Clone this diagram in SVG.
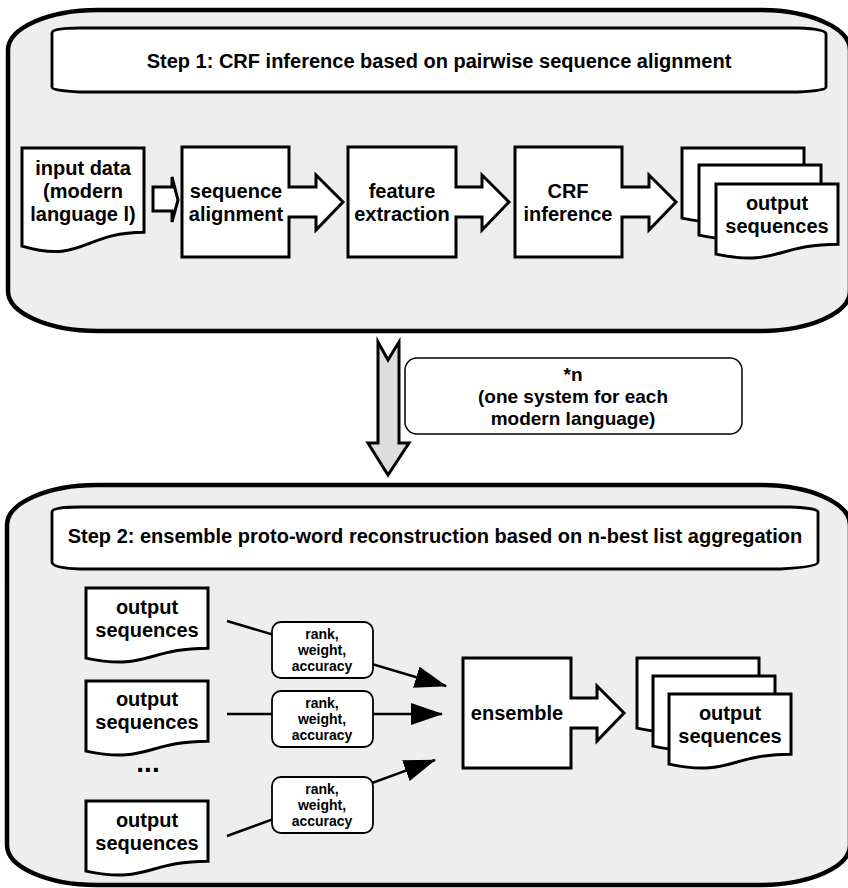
<svg xmlns="http://www.w3.org/2000/svg" width="848" height="888" viewBox="0 0 848 888">
<defs>
<style>
text{font-family:"Liberation Sans",Arial,sans-serif;font-weight:bold;fill:#000;text-anchor:middle}
.t20{font-size:20px}
.t19{font-size:19px}
.t14{font-size:14px}
.cont{fill:#eeeeee;stroke:#000;stroke-width:4.5}
.hdr{fill:#fff;stroke:#000;stroke-width:2.8}
.box{fill:#fff;stroke:#000;stroke-width:3;stroke-linejoin:miter}
.lbl{fill:#fff;stroke:#000;stroke-width:1.8}
.con{fill:none;stroke:#000;stroke-width:2.5}
</style>
<marker id="ah" markerUnits="userSpaceOnUse" markerWidth="32" markerHeight="22" viewBox="0 0 32 22" refX="31" refY="11" orient="auto">
<path d="M0,0 L32,11 L0,22 z" fill="#000"/>
</marker>
</defs>

<g id="step1-container">
<rect class="cont" x="8" y="10" width="842" height="321" rx="90" ry="40"/>
</g>
<g id="step1-header">
<path class="hdr" d="M52,33 Q52,28 80,28 L798,28 Q826,29 826,34 V87 Q826,91 798,92 L80,92 Q52,91 52,87 Z"/>
<text class="t20" x="439" y="68">Step 1: CRF inference based on pairwise sequence alignment</text>
</g>

<g id="input-data">
<path class="box" d="M22,148 H144 V232.2 C83,232.2 83,264.2 22,246.1 Z"/>
<text class="t20" x="83" y="175">input data</text>
<text class="t20" x="83" y="198">(modern</text>
<text class="t20" x="83" y="221">language l)</text>
</g>
<g id="small-arrow">
<path class="box" d="M153,187 H172 V177 L178,200 L172,222 V211 H153 Z"/>
</g>
<g id="sequence-alignment">
<path class="box" d="M182,147 H289 V187 H316 V175 L343,202 L316,230 V217 H289 V257 H182 Z"/>
<text class="t20" x="236" y="198">sequence</text>
<text class="t20" x="236" y="221">alignment</text>
</g>
<g id="feature-extraction">
<path class="box" d="M348,147 H456 V187 H482 V175 L509,202 L482,230 V217 H456 V257 H348 Z"/>
<text class="t20" x="402" y="198">feature</text>
<text class="t20" x="402" y="221">extraction</text>
</g>
<g id="crf-inference">
<path class="box" d="M515,147 H622 V187 H649 V175 L676,202 L649,230 V217 H622 V257 H515 Z"/>
<text class="t20" x="568" y="198">CRF</text>
<text class="t20" x="568" y="221">inference</text>
</g>
<g id="output-stack-1">
<path class="box" d="M682,148 H804 V208.2 C743,208.2 743,231.0 682,218.1 Z"/>
<path class="box" d="M699,165 H821 V225.2 C760,225.2 760,248.0 699,235.1 Z"/>
<path class="box" d="M716,184 H838 V244.2 C777,244.2 777,267.0 716,254.1 Z"/>
<text class="t20" x="777" y="210">output</text>
<text class="t20" x="777" y="233">sequences</text>
</g>

<g id="repeat-arrow">
<path d="M378,342 L388,360 L399,342 V443 H409 L388,475 L368,443 H378 Z" fill="#dddddd" stroke="#000" stroke-width="3" stroke-linejoin="miter"/>
</g>
<g id="repeat-label">
<rect x="405" y="358" width="337" height="76" rx="12" ry="12" fill="#fff" stroke="#000" stroke-width="1.5"/>
<text class="t19" x="573" y="381">*n</text>
<text class="t19" x="573" y="403">(one system for each</text>
<text class="t19" x="573" y="425">modern language)</text>
</g>

<g id="step2-container">
<rect class="cont" x="7" y="485" width="843" height="400" rx="90" ry="40"/>
</g>
<g id="step2-header">
<path class="hdr" d="M52,512 Q52,507 80,507 L790,507 Q818,508 818,512 V562 Q818,567 780,569 L80,569 Q52,568 52,562 Z"/>
<text class="t20" x="435" y="543">Step 2: ensemble proto-word reconstruction based on n-best list aggregation</text>
</g>

<g id="output-seq-a">
<path class="box" d="M86,588 H208 V648.2 C147,648.2 147,671.0 86,658.1 Z"/>
<text class="t20" x="147" y="614">output</text>
<text class="t20" x="147" y="637">sequences</text>
</g>
<g id="output-seq-b">
<path class="box" d="M86,681 H208 V741.2 C147,741.2 147,764.0 86,751.1 Z"/>
<text class="t20" x="147" y="706">output</text>
<text class="t20" x="147" y="729">sequences</text>
</g>
<g id="ellipsis">
<text x="148" y="772" style="font-size:28px">...</text>
</g>
<g id="output-seq-c">
<path class="box" d="M86,801 H208 V861.2 C147,861.2 147,884.0 86,871.1 Z"/>
<text class="t20" x="147" y="827">output</text>
<text class="t20" x="147" y="850">sequences</text>
</g>

<g id="connectors">
<line class="con" x1="227" y1="621" x2="446" y2="686" marker-end="url(#ah)"/>
<line class="con" x1="227" y1="714" x2="442" y2="714" marker-end="url(#ah)"/>
<line class="con" x1="227" y1="836" x2="435" y2="760" marker-end="url(#ah)"/>
<g id="label-1">
<rect class="lbl" x="272" y="622" width="101" height="56" rx="9" ry="9"/>
<text class="t14" x="322" y="639">rank,</text>
<text class="t14" x="322" y="655">weight,</text>
<text class="t14" x="322" y="671">accuracy</text>
</g>
<g id="label-2">
<rect class="lbl" x="272" y="691" width="101" height="56" rx="9" ry="9"/>
<text class="t14" x="322" y="708">rank,</text>
<text class="t14" x="322" y="724">weight,</text>
<text class="t14" x="322" y="740">accuracy</text>
</g>
<g id="label-3">
<rect class="lbl" x="272" y="777" width="101" height="56" rx="9" ry="9"/>
<text class="t14" x="322" y="794">rank,</text>
<text class="t14" x="322" y="810">weight,</text>
<text class="t14" x="322" y="826">accuracy</text>
</g>
</g>

<g id="ensemble">
<path class="box" d="M463,658 H571 V698 H597 V686 L624,713 L597,741 V728 H571 V768 H463 Z"/>
<text class="t20" x="517" y="720">ensemble</text>
</g>
<g id="output-stack-2">
<path class="box" d="M637,658 H759 V718.2 C698,718.2 698,741.0 637,728.1 Z"/>
<path class="box" d="M653,676 H775 V736.2 C714,736.2 714,759.0 653,746.1 Z"/>
<path class="box" d="M669,694 H791 V754.2 C730,754.2 730,777.0 669,764.1 Z"/>
<text class="t20" x="730" y="720">output</text>
<text class="t20" x="730" y="743">sequences</text>
</g>
</svg>
